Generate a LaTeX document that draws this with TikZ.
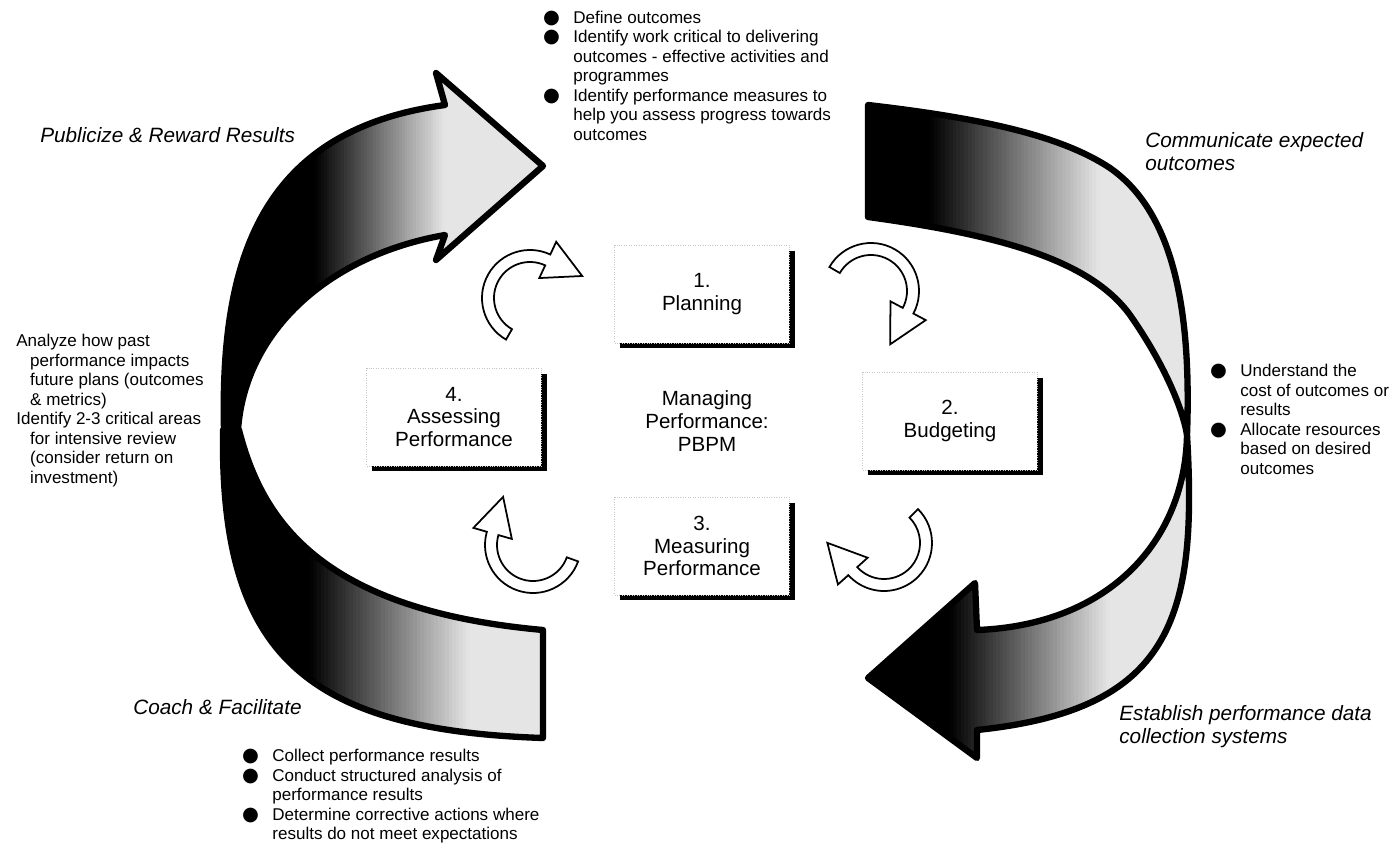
\documentclass[tikz,border=0pt]{standalone}
\usepackage{fontspec}
\setmainfont{Liberation Sans}
\newfontfamily\bulletfont{DejaVu Sans}
\usetikzlibrary{calc,shadows}

\begin{document}
\begin{tikzpicture}[x=0.02cm,y=-0.02cm]
  \tikzset{stepbox/.style={draw=gray!45,densely dotted,line width=0.4pt,fill=white,inner sep=0pt,minimum width=3.5cm,minimum height=1.96cm,align=center,font=\fontsize{11.7}{13}\selectfont,drop shadow={shadow xshift=0.11cm,shadow yshift=-0.11cm,fill=black,opacity=1}}}
  \tikzset{band/.style 2 args={draw=black,line width=3.6pt,line join=round,path picture={
    \fill[black] (0,0) rectangle (#1,844);
    \foreach \k in {0,...,44} {
      \pgfmathtruncatemacro\tone{100-90*(\k+0.5)/45}
      \fill[black!\tone] ({#1+(#2-#1)*\k/45},0) rectangle ({#1+(#2-#1)*(\k+1.3)/45},844);}
    \fill[black!10] (#2,0) rectangle (1400,844);}}}
  \tikzset{turn/.style={draw=black,line width=1pt,fill=white}}
  \tikzset{note/.style={inner sep=0pt,anchor=north west,align=left,font=\fontsize{9.7}{11.1}\selectfont}}
  \tikzset{phase/.style={inner sep=0pt,anchor=north west,align=left,font=\fontsize{11.8}{13}\selectfont\itshape}}

  \def\bul{\llap{{\fontsize{11}{11}\bulletfont ●}\hspace{7.6pt}}}
  \def\turnarrow(#1)#2#3{%
    \draw[turn] ($(#1)+(#2:48)$) arc[start angle=#2,end angle=#3,radius=48]
      -- ($(#1)+(#3:62)$) -- ($(#1)+(#3:42)+({#3+90}:38)$) -- ($(#1)+(#3:22)$)
      -- ($(#1)+(#3:36)$) arc[start angle=#3,end angle=#2,radius=36] -- cycle;}

  \fill[white] (0,0) rectangle (1400,844);
  \useasboundingbox (0,0) rectangle (1400,844);

  \path[band={315}{445}] (224,430) .. controls (220,260) and (260,130) .. (445,105) -- (436,73) -- (543,166)
    -- (436,260) -- (445,235) .. controls (330,255) and (245,330) .. (238,430) -- cycle;
  \path[band={310}{470}] (223,430) .. controls (220,650) and (300,730) .. (543,738) -- (543,630)
    .. controls (320,610) and (262,520) .. (239,430) -- cycle;
  \path[band={930}{1100}] (868,105) .. controls (980,118) and (1060,135) .. (1110,168)
    .. controls (1170,210) and (1192,300) .. (1187,435)
    .. controls (1183,410) and (1165,365) .. (1130,315)
    .. controls (1090,260) and (1000,235) .. (868,217) -- cycle;
  \path[band={950}{1110}] (1187,435) .. controls (1198,620) and (1170,710) .. (977,730) -- (977,758)
    -- (868,678) -- (975,583) -- (977,630) .. controls (1110,625) and (1185,540) .. (1187,435) -- cycle;

  \node[stepbox] (plan) at (702,294) {1.\\Planning};
  \node[stepbox] (budget) at (950,421) {2.\\Budgeting};
  \node[stepbox] (measure) at (702,546) {3.\\Measuring\\Performance};
  \node[stepbox] (assess) at (454,417) {4.\\Assessing\\Performance};
  \node[inner sep=0pt,align=center,font=\fontsize{11.7}{13}\selectfont] (core) at (707,421) {Managing\\Performance:\\PBPM};

  \coordinate (turnA) at (530,298);
  \coordinate (turnB) at (871,291);
  \coordinate (turnC) at (884,543);
  \coordinate (turnD) at (533,545);
  \turnarrow(turnA){120}{295}
  \turnarrow(turnB){210}{388}
  \turnarrow(turnC){-45}{138}
  \turnarrow(turnD){20}{196}

  \node[phase] (publicize) at (40,127) {Publicize \& Reward Results};
  \node[phase] (communicate) at (1145,132) {Communicate expected\\outcomes};
  \node[phase] (coach) at (133,699) {Coach \& Facilitate};
  \node[phase] (establish) at (1119,705) {Establish performance data\\collection systems};

  \node[note] (plannote) at (573,10.5) {\bul Define outcomes\\\bul Identify work critical to delivering\\outcomes - effective activities and\\programmes\\\bul Identify performance measures to\\help you assess progress towards\\outcomes};
  \node[note] (assessnote) at (16,334) {Analyze how past\\\hspace*{7.9pt}performance impacts\\\hspace*{7.9pt}future plans (outcomes\\\hspace*{7.9pt}\& metrics)\\Identify 2-3 critical areas\\\hspace*{7.9pt}for intensive review\\\hspace*{7.9pt}(consider return on\\\hspace*{7.9pt}investment)};
  \node[note] (budgetnote) at (1240,364) {\bul Understand the\\cost of outcomes or\\results\\\bul Allocate resources\\based on desired\\outcomes};
  \node[note] (measurenote) at (272,749) {\bul Collect performance results\\\bul Conduct structured analysis of\\performance results\\\bul Determine corrective actions where\\results do not meet expectations};
\end{tikzpicture}
\end{document}
